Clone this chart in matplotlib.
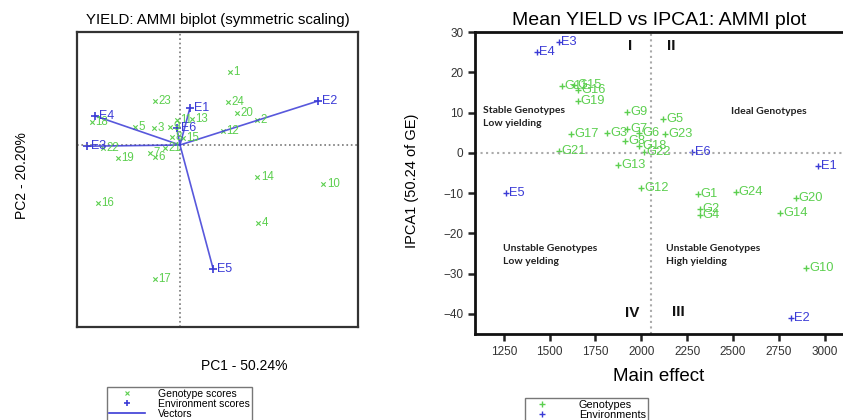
import matplotlib
matplotlib.use("Agg")
import matplotlib.pyplot as plt
from matplotlib.lines import Line2D

plt.rcParams['font.family'] = ['Liberation Sans', 'DejaVu Sans']

# ---- biplot (symmetric scaling) scores ----
gen_ids = ['1', '2', '3', '4', '5', '6', '7', '8', '9', '10', '11', '12',
           '13', '14', '15', '16', '17', '18', '19', '20', '21', '22', '23', '24']
gen_pc1 = [1.25, 1.93, -0.65, 1.95, -1.13, -0.63, -0.75, -0.20, -0.25, 3.58, -0.08, 1.08,
           0.30, 1.93, 0.08, -2.05, -0.63, -2.20, -1.55, 1.43, -0.38, -1.93, -0.63, 1.20]
gen_pc2 = [1.83, 0.63, 0.43, -1.95, 0.45, -0.30, -0.20, 0.20, 0.45, -0.98, 0.63, 0.35,
           0.65, -0.80, 0.18, -1.45, -3.35, 0.58, -0.33, 0.80, -0.08, -0.08, 1.10, 1.08]

env_ids = ['E1', 'E2', 'E3', 'E4', 'E5', 'E6']
env_pc1 = [0.25, 3.45, -2.33, -2.13, 0.83, -0.08]
env_pc2 = [0.93, 1.10, -0.03, 0.73, -3.10, 0.43]

# ---- AMMI1: mean yield vs IPCA1 ----
g_names = ['G%d' % i for i in range(1, 25)]
g_mean = [2309, 2320, 1815, 2320, 2119, 1988, 1923, 1912, 1923, 2900, 1565, 1999,
          1874, 2759, 1635, 1657, 1619, 1988, 1652, 2841, 1549, 2015, 2130, 2515]
g_ipca = [-10.2, -13.9, 5.0, -15.4, 8.4, 5.0, 6.0, 3.0, 10.2, -28.5, 16.6, -8.7,
          -3.0, -14.9, 16.9, 15.6, 4.7, 1.7, 12.9, -11.2, 0.5, 0.25, 4.7, -9.7]
e_names = ['E1', 'E2', 'E3', 'E4', 'E5', 'E6']
e_mean = [2966, 2819, 1549, 1429, 1261, 2276]
e_ipca = [-3.2, -41.0, 27.5, 25.0, -9.9, 0.25]
grand_mean = 2054

green = '#5ccf4f'
blue = '#3b3bd6'

fig = plt.figure(figsize=(8.43, 4.2), dpi=100)

# left: biplot
ax1 = fig.add_axes([0.0913, 0.2214, 0.3334, 0.7024])
ax1.set_xlim(-2.575, 4.45)
ax1.set_ylim(-4.55, 2.825)
ax1.axvline(0, color='#777777', ls=':', lw=1.2)
ax1.axhline(0, color='#777777', ls=':', lw=1.2)
for x, y in zip(env_pc1, env_pc2):
    ax1.plot([0, x], [0, y], color=blue, lw=1.2, alpha=0.85)
ax1.scatter(gen_pc1, gen_pc2, marker='x', s=10, color=green, lw=0.8)
for lab, x, y in zip(gen_ids, gen_pc1, gen_pc2):
    ax1.annotate(lab, (x, y), xytext=(2.5, 0), textcoords='offset points',
                 va='center', ha='left', fontsize=8.3, color=green)
ax1.scatter(env_pc1, env_pc2, marker='+', s=40, color=blue, lw=1.2)
for lab, x, y in zip(env_ids, env_pc1, env_pc2):
    ax1.annotate(lab, (x, y), xytext=(3, 0), textcoords='offset points',
                 va='center', ha='left', fontsize=9, color=blue)
ax1.set_xticks([])
ax1.set_yticks([])
for sp in ax1.spines.values():
    sp.set_linewidth(1.6)
    sp.set_color('#333333')
ax1.set_title('YIELD: AMMI biplot (symmetric scaling)', fontsize=10.8, pad=6)
fig.text(0.29, 0.128, 'PC1 - 50.24%', fontsize=10, ha='center', va='center')
fig.text(0.026, 0.583, 'PC2 - 20.20%', fontsize=10, rotation=90, ha='center', va='center')

h1 = [Line2D([], [], marker='x', color=green, ls='', ms=3, mew=0.8),
      Line2D([], [], marker='+', color=blue, ls='', ms=5, mew=1.2),
      Line2D([], [], color=blue, lw=1.2)]
fig.legend(h1, ['Genotype scores', 'Environment scores', 'Vectors'],
           loc='upper left', bbox_to_anchor=(0.121, 0.092), fontsize=7.5,
           frameon=True, fancybox=False, edgecolor='#555555', handlelength=3.4,
           borderpad=0.2, labelspacing=0.0, handletextpad=1.3)

# right: AMMI1 plot
ax2 = fig.add_axes([0.5635, 0.2048, 0.4365, 0.719])
ax2.set_xlim(1093, 3100)
ax2.set_ylim(-45, 30)
ax2.axvline(grand_mean, color='#aaaaaa', ls=':', lw=1.5)
ax2.axhline(0, color='#aaaaaa', ls=':', lw=1.5)
ax2.scatter(g_mean, g_ipca, marker='+', s=22, color=green, lw=1.0)
for lab, x, y in zip(g_names, g_mean, g_ipca):
    ax2.annotate(lab, (x, y), xytext=(2, 0), textcoords='offset points',
                 va='center', ha='left', fontsize=9.3, color=green)
ax2.scatter(e_mean, e_ipca, marker='+', s=22, color=blue, lw=1.0)
for lab, x, y in zip(e_names, e_mean, e_ipca):
    ax2.annotate(lab, (x, y), xytext=(2, 0), textcoords='offset points',
                 va='center', ha='left', fontsize=9.3, color=blue)

note = dict(fontsize=7.5, fontweight='bold', family=['Lato', 'DejaVu Sans'],
            color='#222222', va='top', ha='left', linespacing=1.5)
ax2.text(1135, 11.5, 'Stable Genotypes\nLow yielding', **note)
ax2.text(2490, 11.3, 'Ideal Genotypes', **note)
ax2.text(1245, -22.7, 'Unstable Genotypes\nLow yelding', **note)
ax2.text(2135, -22.7, 'Unstable Genotypes\nHigh yielding', **note)
roman = dict(fontsize=11, fontweight='bold', color='#111111', ha='left', va='center')
ax2.text(1925, 26.5, 'I', **roman)
ax2.text(2140, 26.5, 'II', **roman)
ax2.text(1910, -39.7, 'IV', **roman)
ax2.text(2165, -39.5, 'III', **roman)

ax2.set_xticks(range(1250, 3001, 250))
ax2.set_yticks(range(-40, 31, 10))
ax2.tick_params(direction='out', length=5, width=1.8, labelsize=8.5,
                labelcolor='#333333', color='#222222')
for sp in ['left', 'bottom', 'top']:
    ax2.spines[sp].set_linewidth(2)
    ax2.spines[sp].set_color('#111111')
ax2.spines['right'].set_visible(False)
ax2.set_title('Mean YIELD vs IPCA1: AMMI plot', fontsize=14, pad=5)
ax2.set_xlabel('Main effect', fontsize=13.5, labelpad=7)
fig.text(0.489, 0.57, 'IPCA1 (50.24 of GE)', fontsize=10.5, rotation=90,
         ha='center', va='center')

h2 = [Line2D([], [], marker='+', color=green, ls='', ms=5, mew=1.0),
      Line2D([], [], marker='+', color=blue, ls='', ms=5, mew=1.0)]
fig.legend(h2, ['Genotypes', 'Environments'], loc='upper left',
           bbox_to_anchor=(0.616, 0.065), fontsize=7.8, frameon=True,
           fancybox=False, edgecolor='#555555', handlelength=2.8,
           borderpad=0.2, labelspacing=0.0, handletextpad=2.0)

fig.savefig('out.png', dpi=100)
